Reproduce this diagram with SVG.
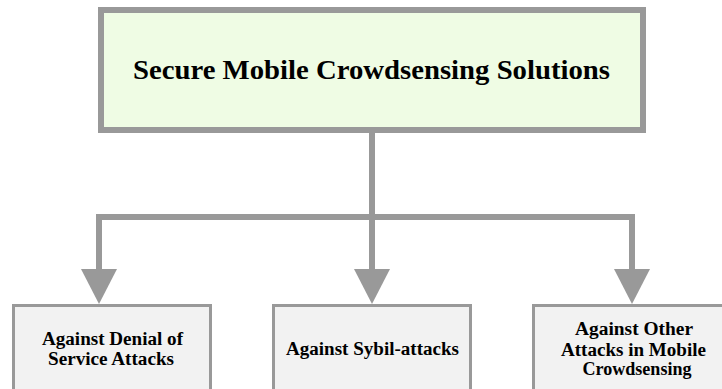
<svg xmlns="http://www.w3.org/2000/svg" width="722" height="389" viewBox="0 0 722 389">
  <style>
    .root { fill: #EFFCE4; stroke: #999999; stroke-width: 6; }
    .leaf { fill: #F2F2F2; stroke: #999999; stroke-width: 3; }
    .conn { fill: none; stroke: #999999; stroke-width: 6; stroke-linejoin: miter; }
    .title { font-family: "Liberation Serif", "Times New Roman", serif; font-weight: bold; font-size: 27px; fill: #000; text-anchor: middle; }
    .label { font-family: "Liberation Serif", "Times New Roman", serif; font-weight: bold; font-size: 18px; fill: #000; text-anchor: middle; }
  </style>
  <defs>
    <marker id="arrow" markerUnits="userSpaceOnUse" markerWidth="36" markerHeight="36" viewBox="0 0 34 35" refX="0" refY="17.5" orient="auto-start-reverse">
      <path d="M0,0 L34,17.5 L0,35 Z" fill="#999999"/>
    </marker>
  </defs>

  <g id="connectors">
    <path class="conn" d="M99,269 V217 H632 V269" marker-start="url(#arrow)" marker-end="url(#arrow)"/>
    <path class="conn" d="M372,133 V269" marker-end="url(#arrow)"/>
  </g>

  <g id="root-node">
    <rect class="root" x="101" y="10" width="542" height="120"/>
    <text class="title" x="371.5" y="79" textLength="477" lengthAdjust="spacingAndGlyphs">Secure Mobile Crowdsensing Solutions</text>
  </g>

  <g id="node-dos">
    <rect class="leaf" x="13.5" y="305.5" width="197" height="100"/>
    <text class="label" x="112.5" y="345" textLength="141" lengthAdjust="spacingAndGlyphs">Against Denial of</text>
    <text class="label" x="111" y="365" textLength="126" lengthAdjust="spacingAndGlyphs">Service Attacks</text>
  </g>

  <g id="node-sybil">
    <rect class="leaf" x="273.5" y="305.5" width="197" height="100"/>
    <text class="label" x="372.5" y="355" textLength="173" lengthAdjust="spacingAndGlyphs">Against Sybil-attacks</text>
  </g>

  <g id="node-other">
    <rect class="leaf" x="533.5" y="305.5" width="197" height="100"/>
    <text class="label" x="634" y="335" textLength="118" lengthAdjust="spacingAndGlyphs">Against Other</text>
    <text class="label" x="633.5" y="355.5" textLength="145" lengthAdjust="spacingAndGlyphs">Attacks in Mobile</text>
    <text class="label" x="637" y="375" textLength="109" lengthAdjust="spacingAndGlyphs">Crowdsensing</text>
  </g>
</svg>
